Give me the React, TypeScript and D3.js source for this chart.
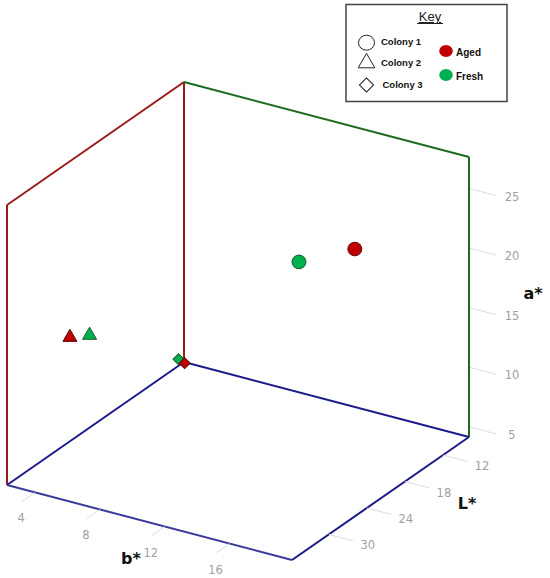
import React from 'react';
import * as d3 from 'd3';

// axis ranges
const bDomain = [2.26, 19.86];
const lDomain = [7.9, 35.8];
const aDomain = [4.16, 27.66];

const bTicks = [4, 8, 12, 16];
const lTicks = [12, 18, 24, 30];
const aTicks = [5, 10, 15, 20, 25];

// points: colony, group, b*, L*, a*
const colonies = ['Colony 1', 'Colony 2', 'Colony 3'];
const groups = ['Aged', 'Fresh'];
const pointColony = [1, 1, 2, 2, 3, 3];
const pointGroup = ['Aged', 'Fresh', 'Aged', 'Fresh', 'Fresh', 'Aged'];
const pointB = [16.1, 13.2, 4.5, 5.4, 8.7, 8.86];
const pointL = [16.3, 17.7, 31.6, 30.8, 25.2, 24.64];
const pointA = [21.7, 20.1, 15.8, 16.0, 13.1, 12.62];

const groupFill: Record<string, string> = { Aged: '#c00000', Fresh: '#00b050' };
const groupStroke: Record<string, string> = { Aged: '#5a0a0a', Fresh: '#145a2a' };

// projection of the scene box
const origin = [184, 362];
const vB = [285, 75];
const vL = [-177, 123];
const vA = [0, -280];

const fb = d3.scaleLinear().domain(bDomain).range([0, 1]);
const fl = d3.scaleLinear().domain(lDomain).range([0, 1]);
const fa = d3.scaleLinear().domain(aDomain).range([0, 1]);

function project(b: number, l: number, a: number): [number, number] {
  const tb = fb(b), tl = fl(l), ta = fa(a);
  return [
    origin[0] + tb * vB[0] + tl * vL[0] + ta * vA[0],
    origin[1] + tb * vB[1] + tl * vL[1] + ta * vA[1],
  ];
}

function unit(v: number[]) {
  const n = Math.hypot(v[0], v[1]);
  return [v[0] / n, v[1] / n];
}

const [b0, b1] = bDomain;
const [l0, l1] = lDomain;
const [a0, a1] = aDomain;

const edges: { p: [number, number, number][]; color: string }[] = [
  { p: [[b0, l1, a1], [b0, l0, a1]], color: '#9b1b1b' },
  { p: [[b0, l1, a1], [b0, l1, a0]], color: '#9b1b1b' },
  { p: [[b0, l0, a1], [b0, l0, a0]], color: '#9b1b1b' },
  { p: [[b0, l0, a1], [b1, l0, a1]], color: '#1d6b1d' },
  { p: [[b1, l0, a1], [b1, l0, a0]], color: '#1d6b1d' },
  { p: [[b0, l1, a0], [b0, l0, a0]], color: '#1a1a8a' },
  { p: [[b0, l0, a0], [b1, l0, a0]], color: '#1a1a8a' },
  { p: [[b0, l1, a0], [b1, l1, a0]], color: '#3a3a9e' },
  { p: [[b1, l1, a0], [b1, l0, a0]], color: '#1a1a8a' },
];

const tickColor = '#dcdcdc';
const labelColor = '#a0a0a0';
const tickFont = '"DejaVu Sans", Verdana, sans-serif';

function Marker({ colony, x, y, fill, stroke, big }: { colony: number; x: number; y: number; fill: string; stroke: string; big?: boolean }) {
  if (colony === 1) {
    return <ellipse cx={x} cy={y} rx={big ? 8 : 7} ry={big ? 7.5 : 6.8} fill={fill} stroke={stroke} strokeWidth={1} />;
  }
  if (colony === 2) {
    const d = d3.symbol(d3.symbolTriangle, big ? 120 : 85)() as string;
    return <path d={d} transform={`translate(${x},${y})`} fill={fill} stroke={stroke} strokeWidth={1} />;
  }
  const d = d3.symbol(d3.symbolSquare, big ? 100 : 60)() as string;
  return <path d={d} transform={`translate(${x},${y}) rotate(45)`} fill={fill} stroke={stroke} strokeWidth={1} />;
}

export default function App() {
  const dirL = unit(vL);
  const dirB = unit(vB);

  return (
    <svg width={550} height={578} style={{ position: 'absolute', left: 0, top: 0, background: '#fff' }}>
      {/* box edges */}
      {edges.map((e, i) => {
        const [p, q] = e.p.map(c => project(c[0], c[1], c[2]));
        return <line key={i} x1={p[0]} y1={p[1]} x2={q[0]} y2={q[1]} stroke={e.color} strokeWidth={2} />;
      })}

      {/* b* ticks */}
      {bTicks.map(t => {
        const [x, y] = project(t, l1, a0);
        return (
          <g key={'b' + t}>
            <line x1={x} y1={y} x2={x + dirL[0] * 16} y2={y + dirL[1] * 16} stroke={tickColor} strokeWidth={1} />
            <text x={x - 14} y={y + 26} textAnchor="middle" dominantBaseline="central" fontFamily={tickFont} fontSize={11.5} fill={labelColor}>{t}</text>
          </g>
        );
      })}

      {/* L* ticks */}
      {lTicks.map(t => {
        const [x, y] = project(b1, t, a0);
        return (
          <g key={'l' + t}>
            <line x1={x} y1={y} x2={x + dirB[0] * 25} y2={y + dirB[1] * 25} stroke={tickColor} strokeWidth={1} />
            <text x={x + 39} y={y + 11} textAnchor="middle" dominantBaseline="central" fontFamily={tickFont} fontSize={11.5} fill={labelColor}>{t}</text>
          </g>
        );
      })}

      {/* a* ticks */}
      {aTicks.map(t => {
        const [x, y] = project(b1, l0, t);
        return (
          <g key={'a' + t}>
            <line x1={x + 1} y1={y} x2={x + 1 + dirB[0] * 27} y2={y + dirB[1] * 27} stroke={tickColor} strokeWidth={1} />
            <text x={x + 43} y={y + 8} textAnchor="middle" dominantBaseline="central" fontFamily={tickFont} fontSize={11.5} fill={labelColor}>{t}</text>
          </g>
        );
      })}

      {/* axis titles */}
      <g fontFamily={tickFont} fontWeight="bold" fontSize={16} fill="#111" textAnchor="middle" dominantBaseline="central">
        <text x={533} y={293}>a*</text>
        <text x={467} y={503}>L*</text>
        <text x={131} y={558}>b*</text>
      </g>

      {/* data points */}
      {pointB.map((b, i) => {
        const [x, y] = project(b, pointL[i], pointA[i]);
        const g = pointGroup[i];
        return <Marker key={i} colony={pointColony[i]} x={x} y={y} fill={groupFill[g]} stroke={groupStroke[g]} />;
      })}

      {/* key */}
      <g>
        <rect x={346} y={4.5} width={161} height={97} fill="#fff" stroke="#444" strokeWidth={1.5} />
        <text x={430} y={21} textAnchor="middle" fontFamily="'Liberation Sans', Arial, sans-serif" fontSize={13} fill="#222" textDecoration="underline">Key</text>
        <line x1={417} y1={23.5} x2={443} y2={23.5} stroke="#222" strokeWidth={1} />
        {colonies.map((c, i) => {
          const y = [42.7, 63, 85][i];
          return (
            <g key={c}>
              <Marker colony={i + 1} x={366.5} y={y} fill="#fff" stroke="#222" big />
              <text x={i === 2 ? 382.5 : 381} y={y - 1} dominantBaseline="central" fontFamily="'Liberation Sans', Arial, sans-serif" fontWeight="bold" fontSize={9.5} fill="#111">{c}</text>
            </g>
          );
        })}
        {groups.map((g, i) => {
          const y = [51, 75][i];
          return (
            <g key={g}>
              <ellipse cx={446} cy={y} rx={6.8} ry={6} fill={groupFill[g]} />
              <text x={456} y={y + 1} dominantBaseline="central" fontFamily="'Liberation Sans', Arial, sans-serif" fontWeight="bold" fontSize={10} fill="#111">{g}</text>
            </g>
          );
        })}
      </g>
    </svg>
  );
}
